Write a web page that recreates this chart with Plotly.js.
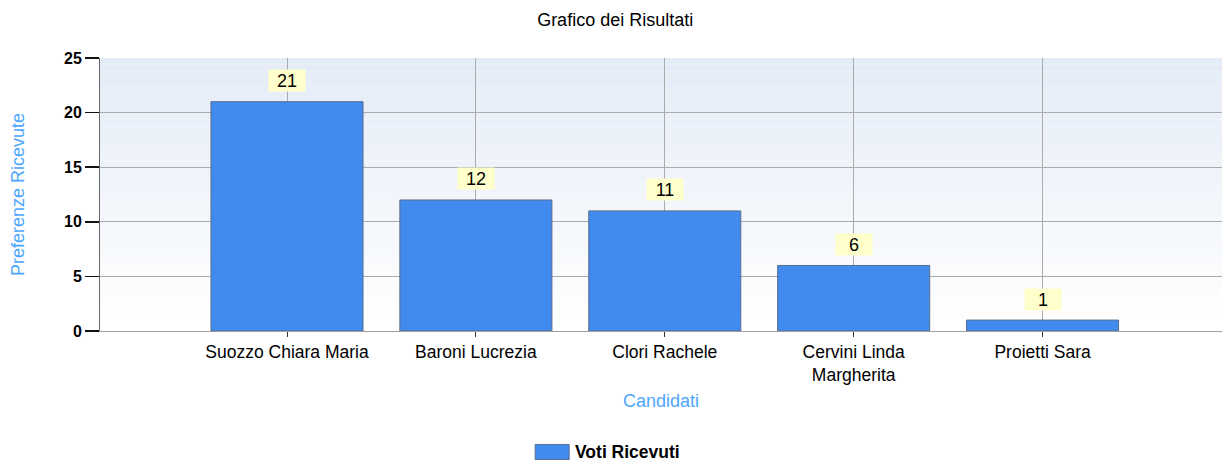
<!DOCTYPE html>
<html><head><meta charset="utf-8">
<script src="https://cdn.plot.ly/plotly-3.0.1.min.js"></script>
<style>html,body{margin:0;padding:0;background:#fff}#chart{width:1223px;height:461px}</style>
</head><body><div id="chart"></div>
<script>
const categories = ["Suozzo Chiara Maria", "Baroni Lucrezia", "Clori Rachele", "Cervini Linda<br>Margherita", "Proietti Sara"];
const votes = [21, 12, 11, 6, 1];
const seriesName = "Voti Ricevuti";
const yTicks = [0, 5, 10, 15, 20, 25];

const xIdx = categories.map((c, i) => i);
const fontFam = "Liberation Sans, Arial, sans-serif";

const shapes = [];
const bands = 40;
const gradTop = [228, 236, 247], gradBot = [255, 255, 255];
for (let i = 0; i < bands; i++) {
  const t = i / (bands - 1);
  const c = gradTop.map((v, k) => Math.round(v + (gradBot[k] - v) * t));
  shapes.push({type: 'rect', xref: 'x domain', yref: 'y domain', x0: 0, x1: 1,
    y0: 1 - (i + 1) / bands, y1: 1 - i / bands, line: {width: 0},
    fillcolor: `rgb(${c[0]},${c[1]},${c[2]})`, layer: 'below'});
}
// legend swatch
shapes.push({type: 'rect', xref: 'paper', yref: 'paper', xsizemode: 'pixel', ysizemode: 'pixel',
  xanchor: 0.403, yanchor: -0.443, x0: -17, x1: 17, y0: -7.5, y1: 7.5,
  fillcolor: '#418aee', line: {color: '#5a6e8c', width: 1}});

const annotations = votes.map((v, i) => ({
  x: xIdx[i], y: v, xref: 'x', yref: 'y', text: String(v), showarrow: false,
  yshift: 21, bgcolor: '#ffffcc', borderpad: 1, width: 34, height: 19,
  font: {family: fontFam, size: 18, color: '#000'}
}));
annotations.push({xref: 'paper', yref: 'paper', x: 0.422, y: -0.443, xanchor: 'left', yanchor: 'middle',
  text: '<b>' + seriesName + '</b>', showarrow: false, font: {family: fontFam, size: 17.5, color: '#000'}});

Plotly.newPlot('chart', [{
  type: 'bar', x: xIdx, y: votes, name: seriesName, width: 0.805,
  marker: {color: '#418aee', line: {color: '#5a6e8c', width: 1}},
  showlegend: false, hoverinfo: 'skip'
}], {
  width: 1223, height: 461,
  margin: {l: 100, r: 1, t: 58, b: 130},
  paper_bgcolor: '#fff', plot_bgcolor: '#fff',
  title: {text: 'Grafico dei Risultati', x: 0.503, xref: 'container', xanchor: 'center', y: 0.958, yref: 'container', yanchor: 'middle',
    font: {family: fontFam, size: 18, color: '#000'}},
  xaxis: {range: [-0.99, 4.95], tickvals: xIdx, ticktext: categories,
    showgrid: true, gridcolor: '#ababab', gridwidth: 1,
    ticks: 'outside', ticklen: 5, tickcolor: '#333', showline: true, linecolor: '#a0a0a0', linewidth: 1,
    tickfont: {family: fontFam, size: 17.5, color: '#000'}, zeroline: false,
    title: {text: 'Candidati', standoff: 10, font: {family: fontFam, size: 18, color: '#4ea6fc'}}},
  yaxis: {range: [0, 25], tickvals: yTicks, ticktext: yTicks.map(v => '<b>' + v + '</b>'),
    showgrid: true, gridcolor: '#ababab', gridwidth: 1,
    ticks: 'outside', ticklen: 14, tickcolor: '#111', tickwidth: 1.5, showline: true, linecolor: '#666', linewidth: 1,
    tickfont: {family: fontFam, size: 16, color: '#000'}, zeroline: false,
    title: {text: 'Preferenze Ricevute', standoff: 34, font: {family: fontFam, size: 18, color: '#4ea6fc'}}},
  shapes: shapes, annotations: annotations, bargap: 0.2
}, {displayModeBar: false, staticPlot: true});
</script></body></html>
